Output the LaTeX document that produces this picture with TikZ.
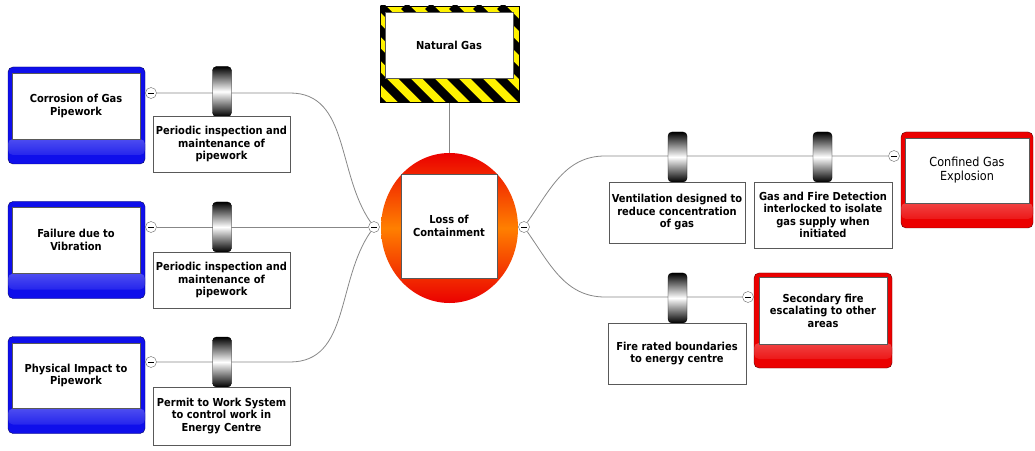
\documentclass[tikz,border=0pt]{standalone}
\usepackage{fontspec}
\setmainfont{DejaVu Sans Condensed}
\usepackage{tikz}
\usetikzlibrary{shapes.geometric,backgrounds}

\definecolor{threatblue}{RGB}{15,15,235}
\definecolor{consred}{RGB}{235,0,0}
\definecolor{wiregray}{RGB}{135,135,135}

\begin{document}
\begin{tikzpicture}[x=1pt, y=1pt,
    txt/.style={font=\fontsize{11}{12.5}\selectfont\bfseries, align=center},
    whitebox/.style={txt, draw=gray!70!black, fill=white, inner sep=1pt},
    wire/.style={draw=wiregray, line width=0.8pt},
    minusdot/.style={circle, draw=gray!80!black, fill=white, minimum size=11pt, inner sep=0pt,
        path picture={\draw[black, line width=0.7pt] ([xshift=-3pt]path picture bounding box.center) -- ([xshift=3pt]path picture bounding box.center);}},
    barrier/.style={draw=black, rounded corners=4pt, minimum width=19pt, minimum height=50pt, inner sep=0pt,
        top color=black, bottom color=black, middle color=white},
    threatframe/.style={draw=threatblue!40!black, fill=threatblue, rounded corners=5pt,
        minimum width=137pt, minimum height=97pt, inner sep=0pt,
        path picture={\shade[top color=white, bottom color=threatblue]
            ([yshift=9pt]path picture bounding box.south west) rectangle ([yshift=25pt]path picture bounding box.south east);}},
    consframe/.style={draw=consred!40!black, fill=consred, rounded corners=5pt,
        minimum height=96pt, inner sep=0pt,
        path picture={\shade[top color=white, bottom color=consred]
            ([yshift=9pt]path picture bounding box.south west) rectangle ([yshift=25pt]path picture bounding box.south east);}},
    hazardframe/.style={draw=black, minimum width=139pt, minimum height=96pt, inner sep=0pt,
        path picture={\fill[yellow] (path picture bounding box.south west) rectangle (path picture bounding box.north east);
            \foreach \i in {-5,...,6}
                \draw[black, line width=8.5pt] ([xshift=\i*24pt]path picture bounding box.north west) -- ++(130pt,-130pt);}}
]
    \useasboundingbox (0,0) rectangle (1035,450);

    % Hazard
    \node[hazardframe] (hz) at (449.5,396) {};
    \node[whitebox, minimum width=128pt, minimum height=66pt] (hzt) at (449,405) {Natural Gas};

    % Top event
    \node[ellipse, minimum width=137pt, minimum height=150pt, inner sep=0pt,
        top color=consred, bottom color=consred, middle color=orange] (ev) at (449.5,222) {};
    \node[whitebox, minimum width=96pt, minimum height=104pt] (loc) at (449,224) {Loss of\\Containment};
    \node[minusdot] (cl) at (374,223) {};
    \node[minusdot] (cr) at (524,223) {};

    % Threats
    \node[threatframe] (t1f) at (76.5,334.5) {};
    \node[whitebox, minimum width=128pt, minimum height=66pt] (t1) at (76,344) {Corrosion of Gas\\Pipework};
    \node[minusdot] (m1) at (151,357) {};

    \node[threatframe] (t2f) at (76.5,200) {};
    \node[whitebox, minimum width=128pt, minimum height=66pt] (t2) at (76,210) {Failure due to\\Vibration};
    \node[minusdot] (m2) at (151,223) {};

    \node[threatframe] (t3f) at (76.5,65) {};
    \node[whitebox, minimum width=128pt, minimum height=65pt] (t3) at (76,74.5) {Physical Impact to\\Pipework};
    \node[minusdot] (m3) at (151,88) {};

    % Preventive barriers
    \node[barrier] (b1) at (222,358.5) {};
    \node[whitebox, minimum width=137pt, minimum height=56pt] (p1) at (221.5,306) {Periodic inspection and\\maintenance of\\pipework};
    \node[barrier] (b2) at (222,223) {};
    \node[whitebox, minimum width=137pt, minimum height=56pt] (p2) at (221.5,170) {Periodic inspection and\\maintenance of\\pipework};
    \node[barrier] (b3) at (222,88) {};
    \node[whitebox, minimum width=137pt, minimum height=58pt] (p3) at (221.5,34) {Permit to Work System\\to control work in\\Energy Centre};

    % Mitigation barriers
    \node[barrier] (b4) at (677.5,293) {};
    \node[whitebox, minimum width=136pt, minimum height=61pt] (p4) at (677,237.5) {Ventilation designed to\\reduce concentration\\of gas};
    \node[barrier] (b5) at (822.5,293) {};
    \node[whitebox, minimum width=138pt, minimum height=66pt] (p5) at (823,235) {Gas and Fire Detection\\interlocked to isolate\\gas supply when\\initiated};
    \node[barrier] (b6) at (677.5,152) {};
    \node[whitebox, minimum width=138pt, minimum height=61pt] (p6) at (677,96.5) {Fire rated boundaries\\to energy centre};

    % Consequences
    \node[consframe, minimum width=132pt] (c1f) at (967,270) {};
    \node[whitebox, minimum width=124pt, minimum height=65pt, font=\fontsize{12.5}{14}\selectfont] (c1) at (967,279.5) {Confined Gas\\Explosion};
    \node[minusdot] (m4) at (894,294) {};
    \node[consframe, minimum width=138pt, minimum height=95pt] (c2f) at (823,129.5) {};
    \node[whitebox, minimum width=128pt, minimum height=67pt] (c2) at (823,139.5) {Secondary fire\\escalating to other\\areas};
    \node[minusdot] (m6) at (748,153) {};

    % Bend points
    \coordinate (k1) at (290,357);
    \coordinate (k3) at (290,88);
    \coordinate (k4) at (605,294);
    \coordinate (k6) at (605,153);

    % Connectors
    \begin{scope}[on background layer]
        \draw[wire] (m1) -- (k1) to[out=0, in=125] (cl);
        \draw[wire] (m2) -- (cl);
        \draw[wire] (m3) -- (k3) to[out=0, in=-125] (cl);
        \draw[wire] (cr) to[out=55, in=180] (k4) -- (m4);
        \draw[wire] (cr) to[out=-55, in=180] (k6) -- (m6);
        \draw[wire] (hz.south) -- (ev.north);
    \end{scope}
\end{tikzpicture}
\end{document}
